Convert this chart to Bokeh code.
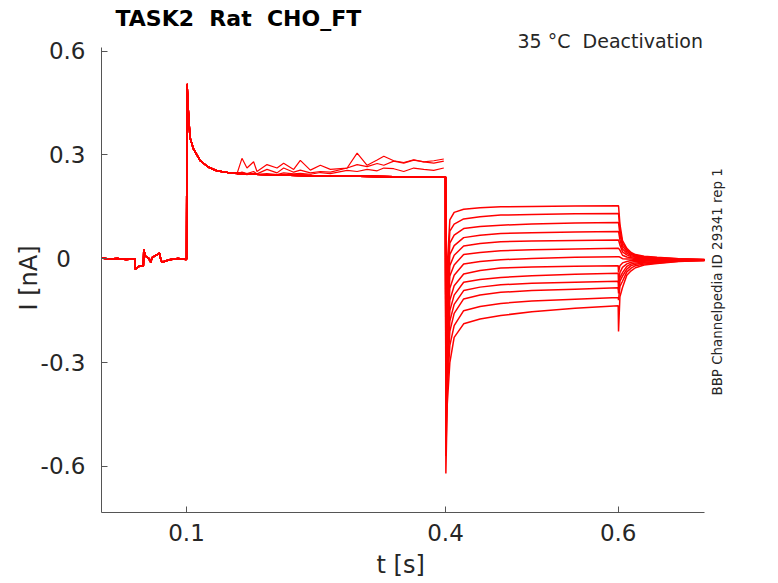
import math
from bokeh.plotting import figure
from bokeh.models import Label, FixedTicker, Range1d, Title
from bokeh.embed import file_html
from bokeh.resources import INLINE

# holding period, all sweeps overlap
t_hold = [0.0015, 0.010, 0.020, 0.030, 0.0404, 0.0406, 0.045, 0.0500, 0.0505,
          0.052, 0.056, 0.0585, 0.060, 0.0687, 0.0700, 0.0715, 0.080, 0.090, 0.0998]
i_hold = [0.002, -0.001, 0.001, -0.002, 0.000, -0.030, -0.022, -0.020, 0.028,
          0.008, 0.002, -0.010, 0.003, 0.016, 0.000, -0.010, -0.003, 0.001, -0.002]

# activating step, all sweeps overlap
t_step = [0.1, 0.1006, 0.102, 0.104, 0.108, 0.116, 0.125, 0.135, 0.15, 0.18,
          0.22, 0.26, 0.30, 0.34, 0.38, 0.4]
i_step = [0.0, 0.505, 0.43, 0.35, 0.317, 0.283, 0.265, 0.254, 0.248, 0.244,
          0.241, 0.239, 0.238, 0.237, 0.236, 0.236]

# three sweeps that drift up during the step
t_drift = [0.1584, 0.1642, 0.1700, 0.1777, 0.1816, 0.1932, 0.2048, 0.2125,
           0.2241, 0.2318, 0.2434, 0.2550, 0.2666, 0.2860, 0.2976, 0.3092,
           0.3208, 0.3285, 0.3400, 0.3516, 0.3632, 0.3748, 0.3864, 0.3980]
i_drift_a = [0.245, 0.290, 0.262, 0.280, 0.252, 0.272, 0.262, 0.276, 0.258,
             0.284, 0.256, 0.270, 0.258, 0.262, 0.272, 0.266, 0.275, 0.270,
             0.282, 0.276, 0.285, 0.280, 0.276, 0.282]
i_drift_b = [0.245, 0.250, 0.246, 0.252, 0.245, 0.258, 0.248, 0.262, 0.250,
             0.256, 0.248, 0.252, 0.250, 0.262, 0.305, 0.270, 0.285, 0.296,
             0.283, 0.278, 0.286, 0.280, 0.283, 0.288]
i_drift_c = [0.244, 0.246, 0.243, 0.247, 0.244, 0.246, 0.243, 0.248, 0.245,
             0.247, 0.244, 0.249, 0.246, 0.255, 0.252, 0.258, 0.254, 0.262,
             0.260, 0.252, 0.262, 0.258, 0.255, 0.262]

# deactivation tails, 13 sweeps (top to bottom), one list per time point
t_tail = [0.4004, 0.402, 0.405, 0.41, 0.421, 0.44, 0.464, 0.50, 0.55, 0.6]
i_tail = [
    [-0.30, -0.33, -0.35, -0.37, -0.39, -0.41, -0.43, -0.45, -0.47, -0.50, -0.53, -0.57, -0.62],
    [-0.02, -0.06, -0.10, -0.13, -0.16, -0.19, -0.22, -0.25, -0.28, -0.31, -0.34, -0.38, -0.42],
    [0.112, 0.080, 0.045, 0.012, -0.020, -0.050, -0.085, -0.120, -0.150, -0.180, -0.210, -0.250, -0.300],
    [0.134, 0.100, 0.068, 0.038, 0.010, -0.018, -0.048, -0.078, -0.105, -0.132, -0.158, -0.193, -0.227],
    [0.143, 0.115, 0.087, 0.061, 0.037, 0.012, -0.015, -0.044, -0.068, -0.092, -0.116, -0.150, -0.188],
    [0.147, 0.121, 0.093, 0.068, 0.044, 0.018, -0.008, -0.034, -0.060, -0.082, -0.105, -0.138, -0.174],
    [0.150, 0.126, 0.097, 0.073, 0.049, 0.023, -0.003, -0.027, -0.054, -0.075, -0.097, -0.129, -0.164],
    [0.151, 0.128, 0.100, 0.075, 0.051, 0.026, 0.001, -0.024, -0.049, -0.071, -0.092, -0.122, -0.153],
    [0.152, 0.130, 0.103, 0.077, 0.053, 0.028, 0.004, -0.022, -0.045, -0.068, -0.088, -0.117, -0.143],
    [0.153, 0.131, 0.105, 0.079, 0.054, 0.030, 0.006, -0.020, -0.042, -0.065, -0.084, -0.112, -0.136],
]

# return to holding
t_post = [0.6004, 0.602, 0.605, 0.61, 0.615, 0.62, 0.63, 0.645, 0.67, 0.7]
i_post = [
    [0.153, 0.131, 0.105, 0.079, 0.054, 0.030, 0.006, -0.040, -0.070, -0.090, -0.100, -0.120, -0.210],
    [0.100, 0.085, 0.070, 0.055, 0.040, 0.025, 0.005, -0.020, -0.040, -0.055, -0.065, -0.080, -0.110],
    [0.052, 0.045, 0.037, 0.028, 0.020, 0.010, 0.000, -0.012, -0.025, -0.040, -0.050, -0.065, -0.083],
    [0.030, 0.026, 0.021, 0.016, 0.011, 0.005, -0.001, -0.008, -0.015, -0.022, -0.030, -0.038, -0.048],
    [0.018, 0.015, 0.012, 0.009, 0.006, 0.003, -0.001, -0.005, -0.010, -0.015, -0.020, -0.027, -0.035],
    [0.012, 0.010, 0.008, 0.006, 0.004, 0.001, -0.002, -0.005, -0.008, -0.012, -0.016, -0.020, -0.026],
    [0.007, 0.006, 0.004, 0.002, 0.001, -0.001, -0.003, -0.005, -0.007, -0.010, -0.012, -0.015, -0.018],
    [0.004, 0.003, 0.002, 0.000, -0.001, -0.002, -0.003, -0.005, -0.006, -0.008, -0.010, -0.012, -0.014],
    [0.000, 0.000, -0.001, -0.002, -0.002, -0.003, -0.004, -0.004, -0.005, -0.006, -0.006, -0.007, -0.008],
    [-0.002, -0.002, -0.003, -0.003, -0.003, -0.003, -0.004, -0.004, -0.004, -0.004, -0.005, -0.005, -0.005],
]

x_ticks = [0.1, 0.4, 0.6]
y_ticks = [-0.6, -0.3, 0, 0.3, 0.6]
y_tick_labels = ["-0.6", "-0.3", "0", "0.3", "0.6"]

# axis extents (the frame reaches further so the notes can sit inside it)
x_lo, x_hi = 0.0015, 0.700
y_lo, y_hi = -0.733, 0.61
PX_X = 863.3   # px per s
PX_Y = 346.2   # px per nA
FW, FH = 669, 512
x_top = x_lo + FW / PX_X
y_top = y_lo + FH / PX_Y

n_sweeps = len(i_tail[0])
xs, ys = [], []
for k in range(n_sweeps):
    xs.append(t_hold + t_step + t_tail + t_post)
    ys.append(i_hold + i_step + [row[k] for row in i_tail] + [row[k] for row in i_post])

FONT = "DejaVu Sans"
TXT = "#262626"

p = figure(frame_width=FW, frame_height=FH, output_backend="svg",
           toolbar_location=None,
           x_range=Range1d(x_lo, x_top), y_range=Range1d(y_lo, y_top),
           min_border_left=101, min_border_right=0, min_border_top=0,
           min_border_bottom=68)
p.outline_line_color = None
p.xgrid.grid_line_color = None
p.ygrid.grid_line_color = None
p.background_fill_color = "white"

p.multi_line(xs, ys, line_color="#ff0000", line_width=1.5)
for i_drift in (i_drift_a, i_drift_b, i_drift_c):
    p.line(t_drift, i_drift, line_color="#ff0000", line_width=1.2)

for ax in (p.xaxis[0], p.yaxis[0]):
    ax.axis_line_color = "#555555"
    ax.major_tick_line_color = "#555555"
    ax.major_tick_in = 6
    ax.major_tick_out = 0
    ax.minor_tick_line_color = None
    ax.major_label_text_font = FONT
    ax.major_label_text_font_size = "23px"
    ax.major_label_text_color = TXT

p.xaxis.bounds = (x_lo, x_hi)
p.xaxis.ticker = FixedTicker(ticks=x_ticks)
p.xaxis.major_label_overrides = {t: str(t) for t in x_ticks}
p.xaxis.major_label_standoff = 11

p.yaxis.bounds = (y_lo, y_hi)
p.yaxis.ticker = FixedTicker(ticks=y_ticks)
p.yaxis.major_label_overrides = {t: (lab + "\u00a0\u00a0" if lab == "0" else lab)
                                 for t, lab in zip(y_ticks, y_tick_labels)}
p.yaxis.major_label_standoff = 16

# axis names as side titles so they can be shifted off the frame centre
p.add_layout(Title(text="I [nA]", align="left", offset=202, standoff=-10,
                   text_font=FONT, text_font_size="24px", text_font_style="normal",
                   text_color=TXT), "left")
p.add_layout(Title(text="t [s]", align="left", offset=275, standoff=10,
                   text_font=FONT, text_font_size="24px", text_font_style="normal",
                   text_color=TXT), "below")


def add_text(px, py, text, size, align="left", angle=0.0, bold=False):
    # px, py: position in canvas pixels from the top-left corner
    p.add_layout(Label(x=x_lo + (px - 101) / PX_X, y=y_top - py / PX_Y, text=text,
                       text_font=FONT, text_font_size=size,
                       text_color="black" if bold else TXT, text_align=align,
                       text_baseline="alphabetic", angle=angle,
                       text_font_style="bold" if bold else "normal"))


add_text(115, 18, "TASK2\u00a0 Rat\u00a0 CHO_FT", "22px", bold=True)
add_text(702.5, 40.5, "35 °C\u00a0 Deactivation", "19px", align="right")
add_text(716.5, 395, "BBP Channelpedia ID 29341 rep 1", "13.4px", angle=math.pi / 2)

open("out.html", "w").write(file_html(p, INLINE))
